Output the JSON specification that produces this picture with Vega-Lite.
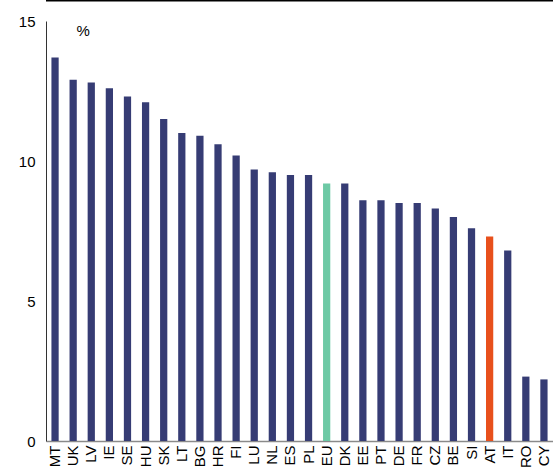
{
  "$schema": "https://vega.github.io/schema/vega-lite/v6.json",
  "width": 507,
  "height": 420,
  "autosize": {"type": "none"},
  "padding": {"left": 46, "top": 21, "right": 0, "bottom": 35},
  "background": "white",
  "config": {
    "view": {"stroke": null},
    "font": "Liberation Sans"
  },
  "data": {
    "values": [
      {"country": "MT", "value": 13.7, "group": "other"},
      {"country": "UK", "value": 12.9, "group": "other"},
      {"country": "LV", "value": 12.8, "group": "other"},
      {"country": "IE", "value": 12.6, "group": "other"},
      {"country": "SE", "value": 12.3, "group": "other"},
      {"country": "HU", "value": 12.1, "group": "other"},
      {"country": "SK", "value": 11.5, "group": "other"},
      {"country": "LT", "value": 11.0, "group": "other"},
      {"country": "BG", "value": 10.9, "group": "other"},
      {"country": "HR", "value": 10.6, "group": "other"},
      {"country": "FI", "value": 10.2, "group": "other"},
      {"country": "LU", "value": 9.7, "group": "other"},
      {"country": "NL", "value": 9.6, "group": "other"},
      {"country": "ES", "value": 9.5, "group": "other"},
      {"country": "PL", "value": 9.5, "group": "other"},
      {"country": "EU", "value": 9.2, "group": "EU"},
      {"country": "DK", "value": 9.2, "group": "other"},
      {"country": "EE", "value": 8.6, "group": "other"},
      {"country": "PT", "value": 8.6, "group": "other"},
      {"country": "DE", "value": 8.5, "group": "other"},
      {"country": "FR", "value": 8.5, "group": "other"},
      {"country": "CZ", "value": 8.3, "group": "other"},
      {"country": "BE", "value": 8.0, "group": "other"},
      {"country": "SI", "value": 7.6, "group": "other"},
      {"country": "AT", "value": 7.3, "group": "AT"},
      {"country": "IT", "value": 6.8, "group": "other"},
      {"country": "RO", "value": 2.3, "group": "other"},
      {"country": "CY", "value": 2.2, "group": "other"}
    ]
  },
  "layer": [
    {
      "mark": {"type": "bar"},
      "encoding": {
        "x": {
          "field": "country",
          "type": "nominal",
          "sort": null,
          "scale": {"paddingInner": 0.6, "paddingOuter": 0.3},
          "axis": {
            "title": null,
            "labelAngle": -90,
            "labelAlign": "right",
            "labelBaseline": "middle",
            "labelFontSize": 15,
            "labelColor": "#000000",
            "labelPadding": 4,
            "ticks": false,
            "domainColor": "#8a8a8a",
            "domainWidth": 1.5
          }
        },
        "y": {
          "field": "value",
          "type": "quantitative",
          "scale": {"domain": [0, 15], "nice": false},
          "axis": {
            "values": [0, 5, 10, 15],
            "grid": false,
            "ticks": false,
            "labelFontSize": 15,
            "labelColor": "#000000",
            "labelPadding": 11,
            "domainColor": "#333333",
            "domainWidth": 1,
            "title": "%",
            "titleAngle": 0,
            "titleFontSize": 15,
            "titleFontWeight": "normal",
            "titleColor": "#000000",
            "titleAlign": "left",
            "titleBaseline": "middle",
            "titleX": 30,
            "titleY": 9
          }
        },
        "color": {
          "field": "group",
          "type": "nominal",
          "scale": {"domain": ["other", "EU", "AT"], "range": ["#363C74", "#6DC9A5", "#E8501C"]},
          "legend": null
        }
      }
    },
    {
      "data": {"values": [{"top": 15.72}]},
      "mark": {"type": "rule", "color": "#000000", "strokeWidth": 1.5, "clip": false},
      "encoding": {
        "y": {"field": "top", "type": "quantitative"}
      }
    }
  ]
}
